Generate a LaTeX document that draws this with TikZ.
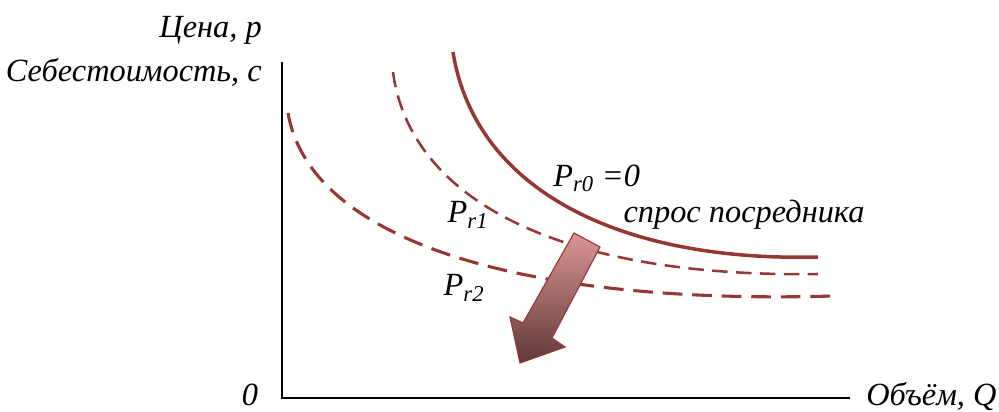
\documentclass[tikz,border=0pt]{standalone}
\usepackage{fontspec}
\setmainfont{Liberation Serif}
\usepackage{tikz}
\usetikzlibrary{calc,positioning}
\definecolor{curvered}{RGB}{149,55,53}
\definecolor{arrowtop}{RGB}{219,150,148}
\definecolor{arrowbot}{RGB}{96,56,56}
\tikzset{
    axisline/.style={
        line width=1.4pt,
        black
    },
    % кривая спроса
    solidcurve/.style={
        line width=2.5pt,
        curvered
    },
    thindash/.style={
        line width=1.8pt,
        curvered,
        dash pattern=on 11pt off 6pt
    },
    thickdash/.style={
        line width=2.2pt,
        curvered,
        dash pattern=on 14pt off 7pt
    },
    lbl/.style={
        font=\fontsize{23}{27}\selectfont\itshape,
        inner sep=0pt
    }
}

\begin{document}
\begin{tikzpicture}[x=0.025cm,y=-0.025cm]
	\useasboundingbox (0,0) rectangle (999,412);
	
	\path
	(282,398) coordinate (o)
	(282,62) coordinate (ytop)
	(850,398) coordinate (xend);
	
	% оси
	\draw[axisline] (ytop) -- (o) -- (xend);
	
	% кривые
	\draw[solidcurve] (453,52) .. controls (475,190) and (620,262) .. (818,257);
	\draw[thindash] (393,72) .. controls (410,200) and (560,278) .. (818,274);
	\draw[thickdash] (288,113) .. controls (310,240) and (520,305) .. (833,296);
	
	% стрелка
	\path
	(574,233) coordinate (a1)
	(600,247) coordinate (a2)
	(552,338) coordinate (a3)
	(565,347) coordinate (a4)
	(520,363) coordinate (a5)
	(510,317) coordinate (a6)
	(523,323) coordinate (a7);
	\shade[top color=arrowtop,bottom color=arrowbot,draw=curvered,line width=0.8pt]
	(a1) -- (a2) -- (a3) -- (a4) -- (a5) -- (a6) -- (a7) -- cycle;
	
	% подписи
	\node[lbl,anchor=east] (price) at (262,30) {Цена, p};
	\node[lbl,anchor=east] (cost) at (262,72) {Себестоимость, с};
	\node[lbl] (zero) at (250,395) {0};
	\node[lbl,anchor=west] (vol) at (866,397) {Объём, Q};
	\node[lbl,anchor=west] (pr0) at (553,178) {P\textsubscript{r0} =0};
	\node[lbl] (demand) at (744,215) {спрос посредника};
	\node[lbl] (pr1) at (468,215) {P\textsubscript{r1}};
	\node[lbl] (pr2) at (464,288) {P\textsubscript{r2}};
\end{tikzpicture}
\end{document}
